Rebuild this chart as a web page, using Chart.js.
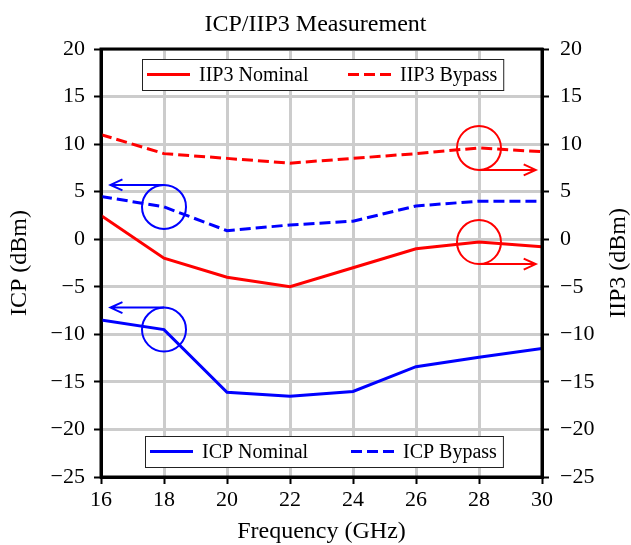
<!DOCTYPE html>
<html>
<head>
<meta charset="utf-8">
<script src="https://cdn.jsdelivr.net/npm/chart.js@4"></script>
<style>
  html, body { margin: 0; padding: 0; background: #fff; }
  #wrap { width: 631px; height: 545px; }
</style>
</head>
<body>
<div id="wrap"><canvas id="chart"></canvas></div>
<script>
// values
const freqs = [16, 18, 20, 22, 24, 26, 28, 30];
const iip3Nominal = [2.5, -2, -4, -5, -3, -1, -0.3, -0.8];
const iip3Bypass = [11, 9, 8.5, 8, 8.5, 9, 9.6, 9.2];
const icpNominal = [-8.5, -9.5, -16.1, -16.5, -16, -13.4, -12.4, -11.5];
const icpBypass = [4.5, 3.4, 0.9, 1.5, 1.9, 3.5, 4, 4];

// circled points and where their arrows point (GHz)
const circleFreqs = [18, 18, 28, 28];
const circleSeries = ['ICP Bypass', 'ICP Nominal', 'IIP3 Bypass', 'IIP3 Nominal'];
const arrowTargets = [16.3, 16.3, 29.8, 29.8];

const RED = '#ff0000';
const BLUE = '#0000ff';
const FONT = "'Liberation Serif', 'Times New Roman', serif";

const pts = vals => freqs.map((f, i) => ({ x: f, y: vals[i] }));
const minus = v => (v < 0 ? '\u2212' + Math.abs(v) : '' + v);

const data = {
  datasets: [
    { label: 'IIP3 Nominal', data: pts(iip3Nominal), yAxisID: 'y1', borderColor: RED, borderWidth: 3 },
    { label: 'IIP3 Bypass', data: pts(iip3Bypass), yAxisID: 'y1', borderColor: RED, borderWidth: 3, borderDash: [11, 5] },
    { label: 'ICP Nominal', data: pts(icpNominal), yAxisID: 'y', borderColor: BLUE, borderWidth: 3 },
    { label: 'ICP Bypass', data: pts(icpBypass), yAxisID: 'y', borderColor: BLUE, borderWidth: 3, borderDash: [11, 5] },
  ]
};

function drawLegend(ctx, entries, left, top) {
  ctx.save();
  ctx.font = '20px ' + FONT;
  const e2 = 206;
  const width = e2 + 51 + ctx.measureText(entries[1].label).width + 7;
  const height = 31;
  ctx.fillStyle = '#fff';
  ctx.fillRect(left, top, width, height);
  ctx.strokeStyle = '#222';
  ctx.lineWidth = 1;
  ctx.strokeRect(left + 0.5, top + 0.5, width, height);
  const cy = top + height / 2;
  entries.forEach((ds, i) => {
    const x0 = left + 5 + i * (e2 - 5);
    ctx.strokeStyle = ds.borderColor;
    ctx.lineWidth = 3;
    ctx.setLineDash(ds.borderDash || []);
    ctx.beginPath();
    ctx.moveTo(x0, cy);
    ctx.lineTo(x0 + 43, cy);
    ctx.stroke();
    ctx.setLineDash([]);
    ctx.fillStyle = '#000';
    ctx.textBaseline = 'middle';
    ctx.textAlign = 'left';
    ctx.fillText(ds.label, x0 + 52, cy + 1);
  });
  ctx.restore();
}

const extras = {
  id: 'extras',
  afterDraw(chart) {
    const { ctx, chartArea: a, scales } = chart;
    const sets = chart.data.datasets;

    // circles and arrows
    circleSeries.forEach((name, i) => {
      const ds = sets.find(d => d.label === name);
      const ys = scales[ds.yAxisID];
      const pt = ds.data.find(p => p.x === circleFreqs[i]);
      const cx = scales.x.getPixelForValue(pt.x);
      const cy = ys.getPixelForValue(pt.y);
      const r = 22;
      const toLeft = arrowTargets[i] < pt.x;
      const ay = toLeft ? cy - r : cy + r;
      const tx = scales.x.getPixelForValue(arrowTargets[i]);
      ctx.save();
      ctx.strokeStyle = ds.borderColor;
      ctx.lineWidth = 2;
      ctx.beginPath();
      ctx.arc(cx, cy, r, 0, Math.PI * 2);
      ctx.stroke();
      const dir = toLeft ? 1 : -1;
      ctx.beginPath();
      ctx.moveTo(cx, ay);
      ctx.lineTo(tx, ay);
      ctx.moveTo(tx + dir * 12, ay - 5.5);
      ctx.lineTo(tx, ay);
      ctx.lineTo(tx + dir * 12, ay + 5.5);
      ctx.stroke();
      ctx.restore();
    });

    // frame
    ctx.save();
    ctx.strokeStyle = '#000';
    ctx.lineWidth = 3;
    ctx.strokeRect(a.left, a.top, a.right - a.left, a.bottom - a.top);
    ctx.restore();

    drawLegend(ctx, [sets[0], sets[1]], a.left + 41, a.top + 10);
    drawLegend(ctx, [sets[2], sets[3]], a.left + 44, a.bottom - 41);

    // right axis title, reading bottom to top
    ctx.save();
    ctx.font = '24px ' + FONT;
    ctx.fillStyle = '#000';
    ctx.textAlign = 'center';
    ctx.textBaseline = 'middle';
    ctx.translate(619, (a.top + a.bottom) / 2);
    ctx.rotate(-Math.PI / 2);
    ctx.fillText('IIP3 (dBm)', 0, 0);
    ctx.restore();
  }
};

const yAxis = (position, pad, width) => ({
  type: 'linear',
  position: position,
  min: -25,
  max: 20,
  ticks: { stepSize: 5, color: '#000', padding: pad, font: { family: FONT, size: 22 }, callback: minus },
  grid: { color: '#cccccc', lineWidth: 3, tickLength: 7, tickColor: '#000', tickWidth: 2, drawOnChartArea: position === 'left' },
  border: { color: '#000', width: 3 },
  afterFit: s => { s.width = width; }
});

const config = {
  type: 'line',
  data: data,
  options: {
    responsive: true,
    maintainAspectRatio: false,
    animation: false,
    layout: { padding: 0 },
    elements: { point: { radius: 0 }, line: { tension: 0 } },
    plugins: {
      legend: { display: false },
      tooltip: { enabled: false },
      title: {
        display: true,
        text: 'ICP/IIP3 Measurement',
        color: '#000',
        font: { family: FONT, size: 24, weight: 'normal', lineHeight: 1.2 },
        padding: { top: 10.6, bottom: 9.6 }
      }
    },
    scales: {
      x: {
        type: 'linear',
        min: 16,
        max: 30,
        ticks: { stepSize: 2, color: '#000', padding: 3, maxRotation: 0, font: { family: FONT, size: 22 } },
        grid: { color: '#cccccc', lineWidth: 3, tickLength: 7, tickColor: '#000', tickWidth: 2 },
        border: { color: '#000', width: 3 },
        title: { display: true, text: 'Frequency (GHz)', color: '#000', font: { family: FONT, size: 24, lineHeight: 1 }, padding: { top: 0, bottom: 1 } },
        afterFit: s => { s.height = 68; }
      },
      y: Object.assign(yAxis('left', 9, 101), {
        title: { display: true, text: 'ICP (dBm)', color: '#000', font: { family: FONT, size: 24, lineHeight: 1 }, padding: { top: 8, bottom: 0 } }
      }),
      y1: yAxis('right', 11, 89)
    }
  },
  plugins: [extras]
};

const chart = new Chart(document.getElementById('chart'), config);
</script>
</body>
</html>
